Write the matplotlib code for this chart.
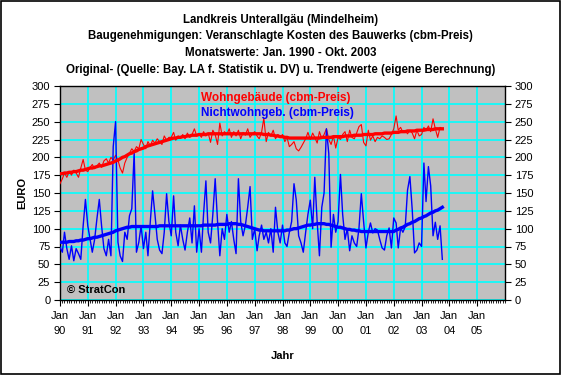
import matplotlib
matplotlib.use('Agg')
import matplotlib.pyplot as plt
import matplotlib.dates as mdates
import pandas as pd

plt.rcParams['font.family'] = ['Liberation Sans', 'DejaVu Sans']

# monthly values Jan 1990 - Oct 2003
months = pd.date_range('1990-01-01', '2003-10-01', freq='MS')

wohn = [
    163, 170, 178, 172, 180, 175, 182, 178, 172, 185, 197, 182,   # 1990
    180, 186, 190, 184, 188, 192, 186, 195, 198, 192, 200, 196,   # 1991
    203, 196, 185, 178, 192, 200, 206, 212, 208, 215, 212, 225,   # 1992
    218, 212, 222, 216, 224, 220, 226, 222, 218, 230, 224, 228,   # 1993
    228, 235, 224, 230, 227, 232, 226, 234, 228, 232, 240, 230,   # 1994
    233, 228, 236, 230, 234, 221, 238, 232, 218, 248, 230, 236,   # 1995
    232, 240, 228, 236, 230, 238, 226, 235, 231, 240, 228, 233,   # 1996
    236, 230, 226, 235, 255, 222, 235, 230, 238, 226, 232, 228,   # 1997
    232, 222, 228, 215, 218, 222, 212, 209, 214, 220, 226, 235,   # 1998
    225, 234, 228, 220, 236, 226, 232, 240, 225, 218, 230, 213,   # 1999
    228, 225, 232, 236, 222, 238, 228, 226, 234, 243, 246, 221,   # 2000
    216, 238, 224, 230, 222, 228, 226, 230, 228, 225, 226, 232,   # 2001
    240, 258, 238, 242, 235, 237, 233, 238, 234, 226, 238, 230,   # 2002
    232, 242, 237, 244, 236, 254, 240, 228, 242, 240,             # 2003
]

wohn_trend = [
    177, 177, 178, 178, 179, 179, 180, 180, 181, 182, 182, 183,
    184, 185, 185, 186, 187, 188, 188, 189, 190, 191, 192, 193,
    195, 196, 198, 200, 201, 203, 205, 206, 208, 209, 211, 212,
    213, 215, 216, 217, 218, 219, 220, 221, 222, 223, 224, 225,
    226, 227, 227, 228, 228, 229, 229, 230, 230, 231, 231, 231,
    232, 232, 232, 232, 233, 233, 233, 233, 233, 233, 233, 233,
    233, 233, 233, 233, 233, 233, 233, 233, 233, 233, 233, 233,
    233, 233, 233, 233, 232, 232, 232, 231, 231, 230, 230, 229,
    229, 228, 228, 227, 227, 227, 227, 227, 227, 227, 227, 227,
    227, 227, 227, 227, 227, 228, 228, 228, 228, 228, 229, 229,
    229, 229, 229, 230, 230, 230, 230, 231, 231, 231, 231, 232,
    232, 232, 232, 232, 233, 233, 233, 233, 234, 234, 234, 234,
    235, 235, 235, 236, 236, 236, 237, 237, 237, 237, 238, 238,
    238, 238, 239, 239, 239, 239, 240, 240, 240, 240,
]

nichtwohn = [
    74, 67, 95, 72, 57, 76, 55, 72, 65, 57, 104, 141,             # 1990
    104, 85, 67, 85, 114, 141, 104, 72, 62, 85, 62, 215,          # 1991
    250, 81, 62, 54, 95, 85, 118, 128, 207, 67, 81, 104,          # 1992
    72, 95, 62, 110, 153, 120, 85, 70, 65, 95, 149, 110,          # 1993
    90, 146, 95, 76, 105, 85, 70, 95, 115, 80, 132, 67,           # 1994
    100, 67, 120, 167, 95, 80, 120, 170, 110, 62, 100, 85,        # 1995
    120, 95, 110, 85, 65, 170, 110, 90, 105, 130, 159, 85,        # 1996
    100, 69, 90, 105, 85, 95, 80, 100, 67, 130, 95, 80,           # 1997
    105, 80, 75, 95, 110, 163, 140, 90, 80, 67, 95, 120,          # 1998
    140, 100, 172, 110, 62, 130, 150, 240, 205, 74, 120, 95,      # 1999
    110, 176, 120, 85, 100, 69, 90, 80, 75, 100, 149, 110,        # 2000
    73, 95, 108, 94, 100, 98, 85, 73, 70, 90, 101, 73,            # 2001
    115, 108, 73, 101, 95, 103, 154, 173, 126, 66, 70, 80,        # 2002
    75, 192, 138, 187, 160, 90, 109, 85, 104, 57,                 # 2003
]

nichtwohn_trend = [
    81, 81, 81, 81, 82, 82, 82, 83, 83, 84, 84, 85,
    86, 86, 87, 88, 88, 89, 90, 91, 92, 93, 94, 95,
    97, 98, 99, 100, 101, 102, 102, 103, 103, 103, 103, 103,
    103, 103, 103, 103, 103, 103, 103, 104, 104, 104, 104, 104,
    104, 104, 104, 104, 104, 104, 104, 104, 104, 104, 104, 104,
    104, 104, 105, 105, 105, 105, 105, 105, 106, 106, 106, 106,
    106, 107, 107, 107, 107, 106, 106, 105, 104, 103, 102, 101,
    100, 99, 98, 98, 97, 97, 97, 97, 97, 97, 97, 97,
    97, 97, 98, 98, 99, 100, 100, 101, 102, 103, 104, 105,
    105, 106, 106, 107, 107, 107, 107, 106, 106, 105, 104, 103,
    102, 102, 101, 100, 99, 99, 98, 98, 97, 97, 96, 96,
    96, 96, 96, 96, 96, 96, 96, 96, 96, 96, 96, 96,
    96, 98, 99, 101, 102, 104, 106, 107, 109, 110, 112, 114,
    115, 117, 118, 120, 122, 123, 125, 126, 128, 130,
]

title_lines = [
    'Landkreis Unterallgäu (Mindelheim)',
    'Baugenehmigungen: Veranschlagte Kosten des Bauwerks (cbm-Preis)',
    'Monatswerte: Jan. 1990 - Okt. 2003',
    'Original- (Quelle: Bay. LA f. Statistik u. DV) u. Trendwerte (eigene Berechnung)',
]

fig = plt.figure(figsize=(5.61, 3.75), dpi=100)
fig.patch.set_facecolor('white')
ax = fig.add_axes([60 / 561, 75 / 375, 445 / 561, 214 / 375])
ax.set_facecolor('#C0C0C0')

# title block
for i, line in enumerate(title_lines):
    fig.text(0.5, 1 - (20 + i * 16.5) / 375, line, ha='center', va='center',
             fontsize=8.3, fontweight='bold')

ax.plot(months, wohn, color='#FF0000', lw=0.8, zorder=3)
ax.plot(months, nichtwohn, color='#0000FF', lw=1.0, zorder=4)
ax.plot(months, wohn_trend, color='#FF0000', lw=2.4, zorder=5)
ax.plot(months, nichtwohn_trend, color='#0000FF', lw=2.4, zorder=6)

ax.set_ylim(0, 300)
ax.set_xlim(pd.Timestamp('1990-01-01'), pd.Timestamp('2006-01-01'))
ax.set_yticks(range(0, 301, 25))

years = pd.date_range('1990-01-01', '2005-01-01', freq='YS')
ax.set_xticks(years)
ax.set_xticklabels(['Jan\n' + d.strftime('%y') for d in years], linespacing=1.6)
ax.xaxis.set_minor_locator(mdates.MonthLocator())

ax.grid(True, which='major', color='#00FFFF', lw=1.2, zorder=1)
ax.set_axisbelow(True)
for s in ax.spines.values():
    s.set_color('black')
    s.set_linewidth(1.0)

ax.tick_params(axis='y', which='major', direction='out', length=4, labelsize=8,
               right=True, labelright=True, pad=3)
ax.tick_params(axis='x', which='major', direction='out', length=4, labelsize=8, pad=4)
ax.tick_params(axis='x', which='minor', direction='out', length=2)

ax.set_ylabel('EURO', fontsize=8, fontweight='bold', labelpad=3)
ax.set_xlabel('Jahr', fontsize=8, fontweight='bold', labelpad=11)

# legend-like labels inside the plot
ax.text(0.317, 0.944, 'Wohngebäude (cbm-Preis)', transform=ax.transAxes,
        color='#FF0000', fontsize=8.5, fontweight='bold', va='center', ha='left', zorder=7)
ax.text(0.317, 0.874, 'Nichtwohngeb. (cbm-Preis)', transform=ax.transAxes,
        color='#0000FF', fontsize=8.5, fontweight='bold', va='center', ha='left', zorder=7)
ax.text(0.015, 0.045, '© StratCon', transform=ax.transAxes,
        color='black', fontsize=8, fontweight='bold', va='center', ha='left', zorder=7)

# outer frame
fig.add_artist(plt.Rectangle((0.001, 0.002), 0.997, 0.996, transform=fig.transFigure,
                             fill=False, edgecolor='black', lw=1.2))

fig.savefig('out.png', dpi=100)
